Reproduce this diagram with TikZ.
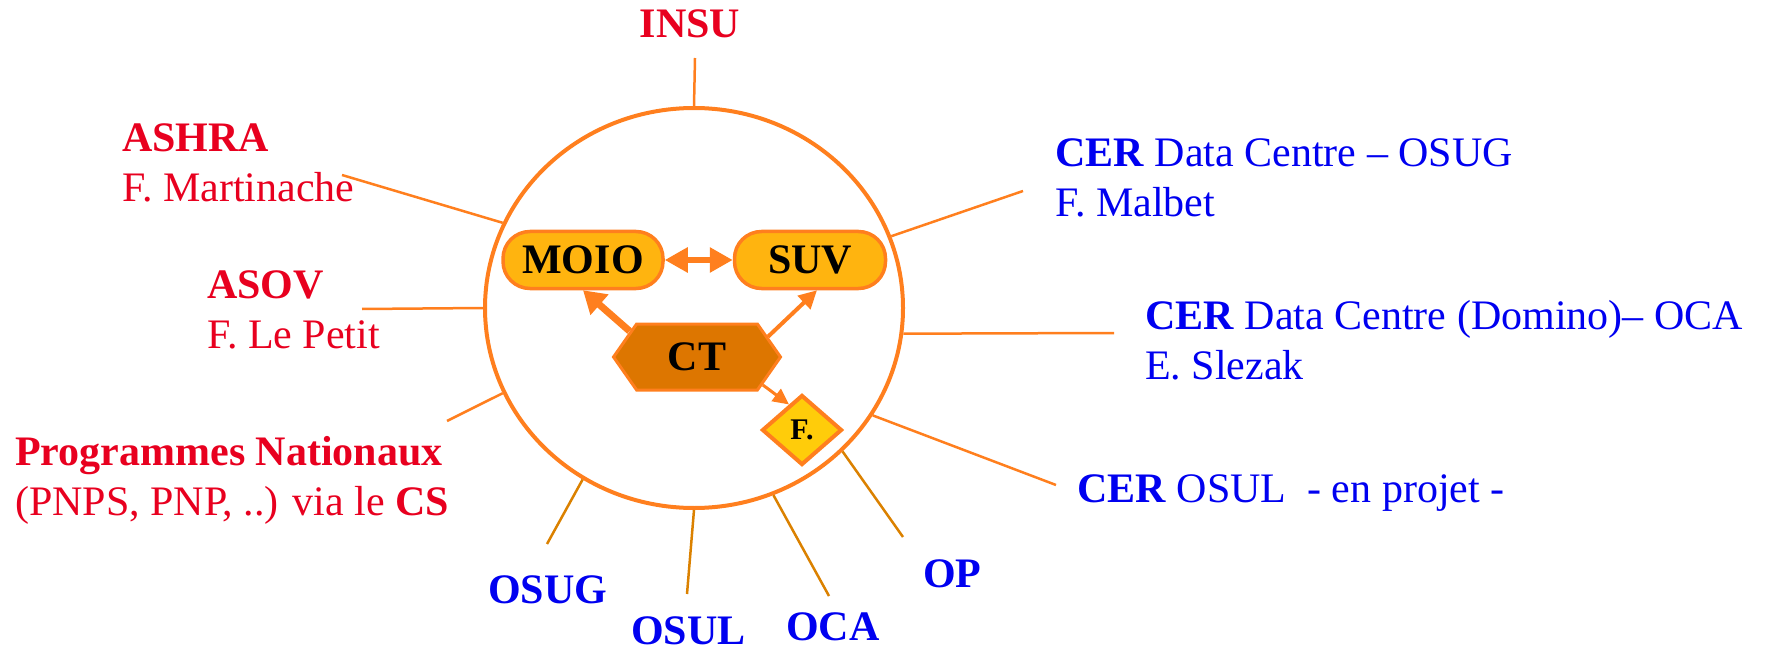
\documentclass[tikz,border=0pt]{standalone}
\usepackage{fontspec}
\setmainfont{Liberation Serif}
\usetikzlibrary{arrows.meta,shapes.geometric,shapes.symbols}
\definecolor{ringorange}{HTML}{FF7F1E}
\definecolor{spokebrown}{HTML}{DB8100}
\definecolor{amber}{HTML}{FFB40F}
\definecolor{hubfill}{HTML}{DD7600}
\definecolor{gold}{HTML}{FFCC0A}
\definecolor{labred}{HTML}{E8001F}
\definecolor{labblue}{HTML}{0000F0}
\tikzset{
  big/.style={font=\fontsize{42}{50}\selectfont},
  ring/.style={ellipse,draw=ringorange,line width=4pt,minimum width=418pt,minimum height=400pt,inner sep=0pt},
  unit/.style={font=\fontsize{42}{50}\selectfont\bfseries,rounded corners=27pt,draw=ringorange,line width=3.5pt,fill=amber,minimum height=57pt,inner sep=0pt},
  hub/.style={signal,signal to=west and east,signal pointer angle=110,font=\fontsize{42}{50}\selectfont\bfseries,draw=ringorange,line width=3pt,fill=hubfill,minimum width=167pt,minimum height=66pt,inner sep=0pt},
  small/.style={diamond,font=\fontsize{30}{32}\selectfont\bfseries,draw=ringorange,line width=4pt,fill=gold,minimum width=80pt,minimum height=70pt,inner sep=0pt},
  redlab/.style={big,text=labred,align=left,anchor=base west,inner sep=0pt},
  bluelab/.style={big,text=labblue,align=left,anchor=base west,inner sep=0pt},
  spoke/.style={draw=ringorange,line width=2.5pt},
  lowspoke/.style={draw=spokebrown,line width=2.5pt},
  link/.style={draw=ringorange}
}
\begin{document}
\begin{tikzpicture}[x=1pt,y=-1pt]
\useasboundingbox (0,0) rectangle (1766,652);
\node[ring] (ring) at (694,308) {};

% partners around the ring (base = last line)
\node[big,text=labred,anchor=base,inner sep=0pt] (insu) at (690,38) {\textbf{INSU}};
\node[redlab] (ashra) at (122,202) {\textbf{ASHRA}\\F. Martinache};
\node[redlab] (asov) at (207,348) {\textbf{ASOV}\\F. Le Petit};
\node[redlab] (pn) at (15,515) {\textbf{Programmes Nationaux}\\(PNPS, PNP, ..) via le \textbf{CS}};
\node[bluelab] (cerosug) at (1055,217) {\textbf{CER} Data Centre – OSUG\\F. Malbet};
\node[bluelab] (cerdomino) at (1145,379) {\textbf{CER} Data Centre (Domino)– OCA\\E. Slezak};
\node[bluelab] (cerosul) at (1077,502) {\textbf{CER} OSUL\ \ - en projet -};
\node[bluelab] (osug) at (488,603) {\textbf{OSUG}};
\node[bluelab] (osul) at (631,644) {\textbf{OSUL}};
\node[bluelab] (oca) at (786,640) {\textbf{OCA}};
\node[bluelab] (op) at (923,587) {\textbf{OP}};

\coordinate (insuEnd) at (695,58);
\coordinate (ashraEnd) at (342,175);
\coordinate (asovEnd) at (362,309);
\coordinate (pnEnd) at (447,421);
\coordinate (cerosugEnd) at (1023,191);
\coordinate (cerdominoEnd) at (1114,333);
\coordinate (cerosulEnd) at (1056,485);
\coordinate (opEnd) at (903,537);
\coordinate (ocaEnd) at (829,596);
\coordinate (osulEnd) at (687,594);
\coordinate (osugEnd) at (547,544);

\draw[spoke] (ring.90) -- (insuEnd);
\draw[spoke] (ring.156) -- (ashraEnd);
\draw[spoke] (ring.180) -- (asovEnd);
\draw[spoke] (ring.204) -- (pnEnd);
\draw[spoke] (ring.20) -- (cerosugEnd);
\draw[spoke] (ring.353) -- (cerdominoEnd);
\draw[spoke] (ring.329) -- (cerosulEnd);
\draw[lowspoke] (ring.316) -- (opEnd);
\draw[lowspoke] (ring.293) -- (ocaEnd);
\draw[lowspoke] (ring.270) -- (osulEnd);
\draw[lowspoke] (ring.237) -- (osugEnd);

% inside the ring
\node[unit,minimum width=160pt] (moio) at (583,260) {MOIO};
\node[unit,minimum width=151pt] (suv) at (810,260) {SUV};
\node[hub] (ct) at (697,357) {CT};
\node[small] (f) at (802,430) {F.};

\draw[link,line width=6pt,{Triangle[length=23pt,width=24pt]}-{Triangle[length=23pt,width=24pt]}] (moio) -- (suv);
\draw[link,line width=7pt,-{Triangle[length=22pt,width=26pt]}] (ct.159) -- (moio.south);
\draw[link,line width=4pt,-{Triangle[length=18pt,width=18pt]}] (ct.16) -- (suv.283);
\draw[link,line width=3pt,-{Triangle[length=16pt,width=15pt]}] (ct.337) -- (f.117);
\end{tikzpicture}
\end{document}
